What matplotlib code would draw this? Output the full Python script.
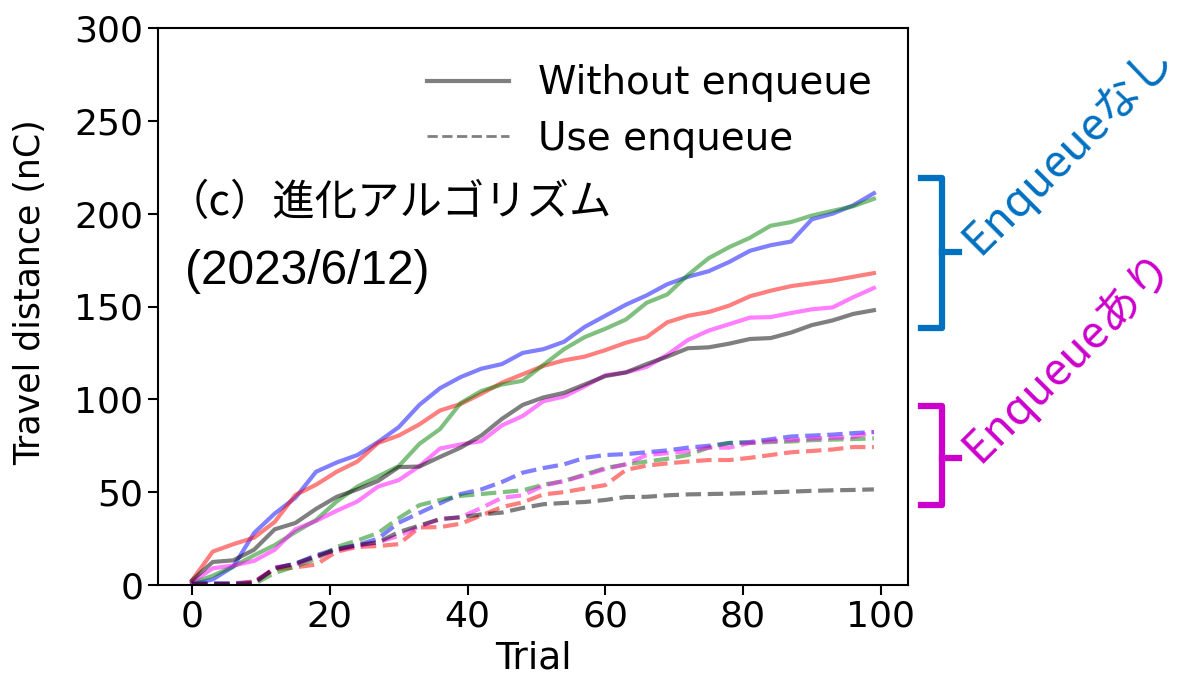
import numpy as np
import matplotlib
matplotlib.use("Agg")
import matplotlib.pyplot as plt
from matplotlib.lines import Line2D

plt.rcParams['font.family'] = ['DejaVu Sans', 'Noto Sans CJK JP']

# trial index of each sample
trial = list(range(0, 100, 3))

# cumulative travel distance (nC) per run, without enqueue
blue_solid = [0.5, 3, 10, 28, 38.5, 47, 61, 66, 70, 77, 85, 97, 106, 112, 116.5, 119, 125, 127,
              131, 139, 145, 151, 156, 162, 166, 169, 174, 180, 183, 185, 197, 200, 204.5, 211]
green_solid = [1, 5, 10, 16, 21.5, 28.5, 35, 45, 53, 58.5, 64, 76, 84, 98, 104.5, 108, 110, 118.5,
               127, 133.5, 138, 143, 152, 156.5, 167, 176, 182, 187, 193.5, 195.5, 199, 201.5, 204, 208]
red_solid = [2.5, 18, 22, 25.5, 34, 48.5, 54, 61, 66.5, 76.5, 80.5, 86.5, 94, 97.5, 103, 109, 113.5, 118,
             121, 123, 126.5, 130.5, 133.5, 141.5, 145, 147, 150.5, 155.5, 158.5, 161, 162.5, 164, 166, 168]
magenta_solid = [1.5, 9, 10.5, 13, 19, 30, 34.5, 40, 45, 53, 56.5, 64, 73.5, 75.7, 77.5, 86, 91, 99,
                 101.5, 107, 113, 114.5, 117.5, 124, 132, 137, 140.5, 144, 144.3, 146.5, 148.5, 149.5, 155, 160]
black_solid = [2.5, 12.4, 13.3, 19, 30, 33.4, 41, 47.5, 51.5, 56, 63.5, 63.8, 69, 74, 80.5, 89.5, 97, 101,
               103.5, 108, 112.5, 114.5, 119, 123, 127.5, 128, 130, 132.5, 133, 136, 140, 142.5, 146, 148]

# cumulative travel distance (nC) per run, using enqueue
blue_dash = [1, 1, 1, 1.5, 9, 11.5, 16, 19.5, 21.5, 25, 33.5, 38.8, 44, 49, 51.5, 55.5, 60.5, 63,
             65, 68.5, 70, 70.5, 71.5, 72.5, 74, 75, 76.5, 77, 78.5, 80, 80.5, 81, 81.8, 82.4]
green_dash = [0.5, 0.5, 0.5, 0.5, 6.5, 10, 14, 20.5, 24, 28, 36, 43, 45.8, 48, 49, 50, 51, 54,
              56, 59.5, 63, 65, 66.5, 68, 70, 74, 76.5, 76.5, 77, 77.3, 78, 78.3, 78.6, 79]
red_dash = [0.5, 0.5, 0.5, 2, 8.5, 9.5, 11, 18, 20.5, 21, 22, 31, 31.2, 33, 37.5, 42, 44.5, 48.8,
            50, 52, 53.8, 62, 64.3, 65.5, 66.5, 67.3, 67.3, 68.5, 70, 71.5, 72.2, 73, 74.3, 74.3]
magenta_dash = [0.5, 0.5, 0.5, 1, 9.5, 11, 15, 19, 21, 23, 26.5, 31.5, 35.5, 36.5, 41.5, 47, 48.3, 53.5,
                56, 59, 62.5, 65, 70, 71, 72, 74, 74, 76.5, 77.5, 78, 78.8, 79.3, 79.7, 82.4]
black_dash = [0.5, 0.5, 0.5, 1, 9, 11.5, 15.5, 19, 21.5, 23, 28.5, 32, 35.5, 36.5, 38, 39, 41.5, 43.5,
              44.2, 44.7, 45.8, 47.4, 47.5, 48.3, 48.8, 49, 49.2, 49.5, 49.9, 50.3, 50.7, 51, 51.2, 51.5]

runs = [
    ('b', blue_solid, blue_dash),
    ('r', red_solid, red_dash),
    ('g', green_solid, green_dash),
    ('magenta', magenta_solid, magenta_dash),
    ('k', black_solid, black_dash),
]

W, H = 1188, 677


def fx(px):
    return px / W


def fy(py):
    return 1 - py / H


fig = plt.figure(figsize=(W / 100, H / 100), dpi=100)
ax = fig.add_axes([fx(158), fy(585), fx(908) - fx(158), fy(28) - fy(585)])

for color, solid, dash in runs:
    ax.plot(trial, solid, color=color, alpha=0.5, lw=3)
    ax.plot(trial, dash, color=color, alpha=0.5, lw=3, ls='--')

ax.set_ylim(0, 300)
ax.set_xticks([0, 20, 40, 60, 80, 100])
ax.set_yticks([0, 50, 100, 150, 200, 250, 300])
ax.tick_params(labelsize=26, width=1.5, length=7)
for sp in ax.spines.values():
    sp.set_linewidth(1.5)
ax.set_xlabel('Trial', fontsize=27, labelpad=5)
ax.set_ylabel('Travel distance (nC)', fontsize=25)
ax.yaxis.set_label_coords(-0.148, 0.525)

handles = [Line2D([], [], color='k', alpha=0.5, lw=3),
           Line2D([], [], color='k', alpha=0.5, lw=2, ls='--')]
ax.legend(handles, ['Without enqueue', 'Use enqueue'], loc='upper right', frameon=False,
          fontsize=28, handlelength=2.1, handletextpad=0.75, borderaxespad=0.53,
          labelspacing=0.45)

fig.text(fx(167), fy(203), '（c）進化アルゴリズム', fontsize=30.5,
         family=['Noto Sans CJK JP', 'DejaVu Sans'], va='center')
fig.text(fx(185), fy(271), '(2023/6/12)', fontsize=34.5,
         family=['Liberation Sans'], va='center')

# brackets grouping the two kinds of runs
blue_c = '#0070C0'
mag_c = '#CC00CC'
for col, top, bot, mid in [(blue_c, 178, 328, 252), (mag_c, 406, 505, 458)]:
    fig.lines.append(Line2D([fx(921), fx(942), fx(942), fx(921)],
                            [fy(top), fy(top), fy(bot), fy(bot)],
                            color=col, lw=4.5, solid_joinstyle='round',
                            transform=fig.transFigure))
    fig.lines.append(Line2D([fx(942), fx(959)], [fy(mid), fy(mid)],
                            color=col, lw=4.5, transform=fig.transFigure))

fig.text(fx(979), fy(256), 'Enqueueなし', color=blue_c, fontsize=32.5, rotation=45,
         rotation_mode='anchor', ha='left', va='baseline', family=['Noto Sans CJK JP'])
fig.text(fx(979), fy(464), 'Enqueueあり', color=mag_c, fontsize=32.5, rotation=45,
         rotation_mode='anchor', ha='left', va='baseline', family=['Noto Sans CJK JP'])

fig.savefig('out.png', dpi=100)
